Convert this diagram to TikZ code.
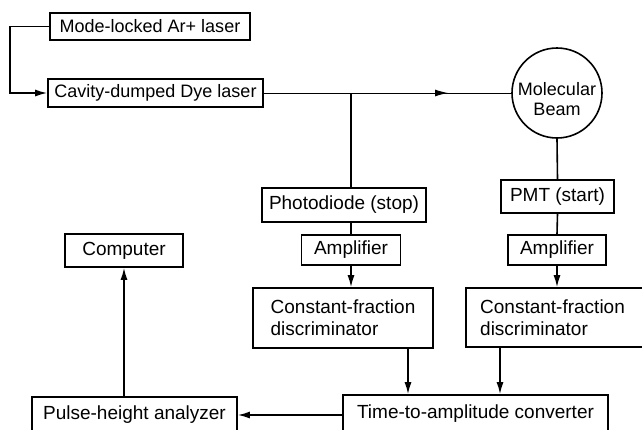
\documentclass[tikz,border=0pt]{standalone}
\usepackage{fontspec}
\setmainfont{Liberation Sans}
\usetikzlibrary{arrows.meta}
\begin{document}
\begin{tikzpicture}[x=1pt,y=-1pt,
  txt/.style={font=\fontsize{19}{22}\selectfont},
  small/.style={font=\fontsize{18}{22}\selectfont},
  box/.style={draw,line width=1.6pt,inner ysep=0pt,inner xsep=2pt,txt},
  arr/.style={line width=1.6pt,-{Latex[length=12pt,width=7pt]}},
  ln/.style={line width=1.6pt},
  thin/.style={line width=1pt}]
\useasboundingbox (0,0) rectangle (642,429);
\clip (0,0) rectangle (642,429);
\node[box,small,minimum width=200pt,minimum height=27pt] (ml) at (150,26.5) {Mode-locked Ar+ laser};
\node[box,small,minimum width=215pt,minimum height=28pt] (cd) at (155.5,93) {Cavity-dumped Dye laser};
\node[draw,circle,line width=1.6pt,minimum size=90pt,inner sep=0pt] (mb) at (557,93) {};
\node[small,align=center,inner sep=0pt] (mbt) at (557,99) {Molecular\\[-2pt]Beam};
\node[box,minimum width=164pt,minimum height=34pt] (pd) at (344,205) {Photodiode (stop)};
\node[box,minimum width=99pt,minimum height=30pt] (amp1) at (351,250) {Amplifier};
\node[box,minimum width=180pt,minimum height=60pt,align=left] (cfd1) at (343,318) {Constant-fraction\\discriminator};
\node[box,minimum width=113pt,minimum height=33pt] (pmt) at (557.5,196.5) {PMT (start)};
\node[box,minimum width=98pt,minimum height=30pt] (amp2) at (557,250) {Amplifier};
\node[box,minimum width=186pt,minimum height=59pt] (cfd2) at (559,317.5) {};
\node[txt,align=left,inner sep=0pt,anchor=west] (cfd2t) at (480,317.5) {Constant-fraction\\discriminator};
\node[box,minimum width=265pt,minimum height=37pt] (tac) at (475.5,413.5) {Time-to-amplitude converter};
\node[box,minimum width=118pt,minimum height=33pt] (comp) at (124,250.5) {Computer};
\node[box,minimum width=205pt,minimum height=35pt] (pha) at (134.5,414.5) {Pulse-height analyzer};
% laser pump
\coordinate (c1) at (10,26.5);
\coordinate (c2) at (10,93);
\draw[arr] (ml.west) -- (c1) -- (c2) -- (cd.west);
% laser beam
\coordinate (j1) at (amp1.north |- cd.east);
\coordinate (ah) at (448,93);
\draw[thin] (cd.east) -- (mb.west);
\draw[thin,-{Latex[length=13pt,width=7pt]}] (j1) -- (ah);
\draw[ln] (j1) -- (amp1.north |- pd.north);
\draw[ln] (amp1.north |- pd.south) -- (amp1.north);
\draw[arr] (amp1.south) -- (amp1.south |- cfd1.north);
\coordinate (d1) at (408,348);
\draw[arr] (d1) -- (d1 |- tac.north);
% right branch
\draw[ln] (mb.south) -- (pmt.north);
\draw[ln] (pmt.south) -- (amp2.north);
\draw[arr] (amp2.south) -- (amp2.south |- cfd2.north);
\coordinate (d2) at (500,347);
\draw[arr] (d2) -- (d2 |- tac.north);
% output
\coordinate (t1) at (tac.west |- 0,415);
\draw[arr] (t1) -- (t1 -| pha.east);
\draw[arr] (pha.north -| comp.south) -- (comp.south);
\end{tikzpicture}
\end{document}
